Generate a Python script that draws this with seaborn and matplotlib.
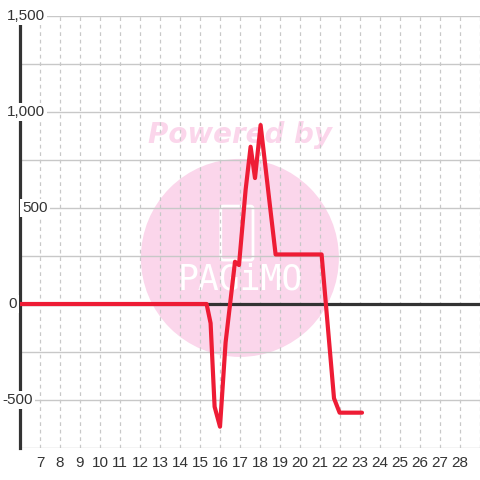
import matplotlib
matplotlib.use("Agg")
import matplotlib.pyplot as plt
import matplotlib.transforms as mtransforms
from matplotlib.patches import Ellipse, FancyBboxPatch
import seaborn as sns
import pandas as pd

# values
hours = [6.0, 15.33, 15.53, 15.73, 16.0, 16.28, 16.75, 16.95, 17.28,
         17.53, 17.75, 18.03, 18.78, 21.08, 21.7, 21.98, 23.1]
values = [0, 0, -100, -535, -639, -200, 220, 203, 594,
          819, 656, 932, 258, 258, -491, -566, -566]
x_ticks = list(range(7, 29))
y_ticks = [1500, 1000, 500, 0, -500]
y_tick_labels = ["1,500", "1,000", "500", "0", "-500"]

sns.set_theme(style="white")
plt.rcParams['font.family'] = ['Liberation Sans', 'DejaVu Sans']

df = pd.DataFrame({"hour": hours, "value": values})

fig = plt.figure(figsize=(4.8, 4.8), dpi=100)
fig.patch.set_facecolor("white")
ax = fig.add_axes([20 / 480, 32 / 480, 460 / 480, 432 / 480])
ax.set_facecolor("white")
ax.set_axisbelow(True)

# watermark
ax.add_patch(Ellipse((0.478, 0.44), 198 / 460, 198 / 432, transform=ax.transAxes,
                     facecolor="#fbd6eb", edgecolor="none", zorder=0.2))
ax.add_patch(FancyBboxPatch((0.4415, 0.44), 0.06, 0.115, transform=ax.transAxes,
                            boxstyle="round,pad=0.005", facecolor="none",
                            edgecolor="white", lw=2, zorder=0.3))
ax.text(0.478, 0.39, "PAGiMO", transform=ax.transAxes, ha="center", va="center",
        color="white", fontsize=25, family="DejaVu Sans Mono", zorder=0.3)
ax.text(0.478, 0.725, "Powered by", transform=ax.transAxes, ha="center", va="center",
        color="#fbd6eb", fontsize=20, fontweight="bold", fontstyle="italic",
        family="DejaVu Sans", zorder=0.3)

# grid
for v in range(-750, 1501, 250):
    ax.axhline(v, color="#c8c8c8", lw=1, zorder=0.5)
for v in range(6, 30):
    ax.axvline(v, color="#c8c8c8", lw=0.9, ls=(0, (3, 3)), zorder=0.5)

ax.axhline(0, color="#333333", lw=2.3, zorder=2)

sns.lineplot(data=df, x="hour", y="value", color="#ee1c35", lw=3,
             estimator=None, sort=False, ax=ax, zorder=3)

ax.set_xlim(6, 29)
ax.set_ylim(-750, 1500)
ax.set_xticks(x_ticks)
ax.set_xticklabels([str(t) for t in x_ticks], fontsize=11, color="#333333")
ax.tick_params(axis="x", length=0, pad=6)
ax.set_yticks([])
ax.set_xlabel("")
ax.set_ylabel("")

for s in ["top", "right", "bottom"]:
    ax.spines[s].set_visible(False)
ax.spines["left"].set_color("#333333")
ax.spines["left"].set_linewidth(2.3)
ax.spines["left"].set_bounds(-750, 1460)

# y labels sit on top of the spine with a white box
label_left_px = [7, 7, 22, 8, 2]
trans = mtransforms.blended_transform_factory(fig.transFigure, ax.transData)
for val, lab, px in zip(y_ticks, y_tick_labels, label_left_px):
    ax.text(px / 480, val, lab, transform=trans, ha="left", va="center",
            fontsize=11, color="#333333", zorder=5, clip_on=False,
            bbox=dict(facecolor="white", edgecolor="none", pad=1.5))

fig.savefig("out.png", dpi=100)
